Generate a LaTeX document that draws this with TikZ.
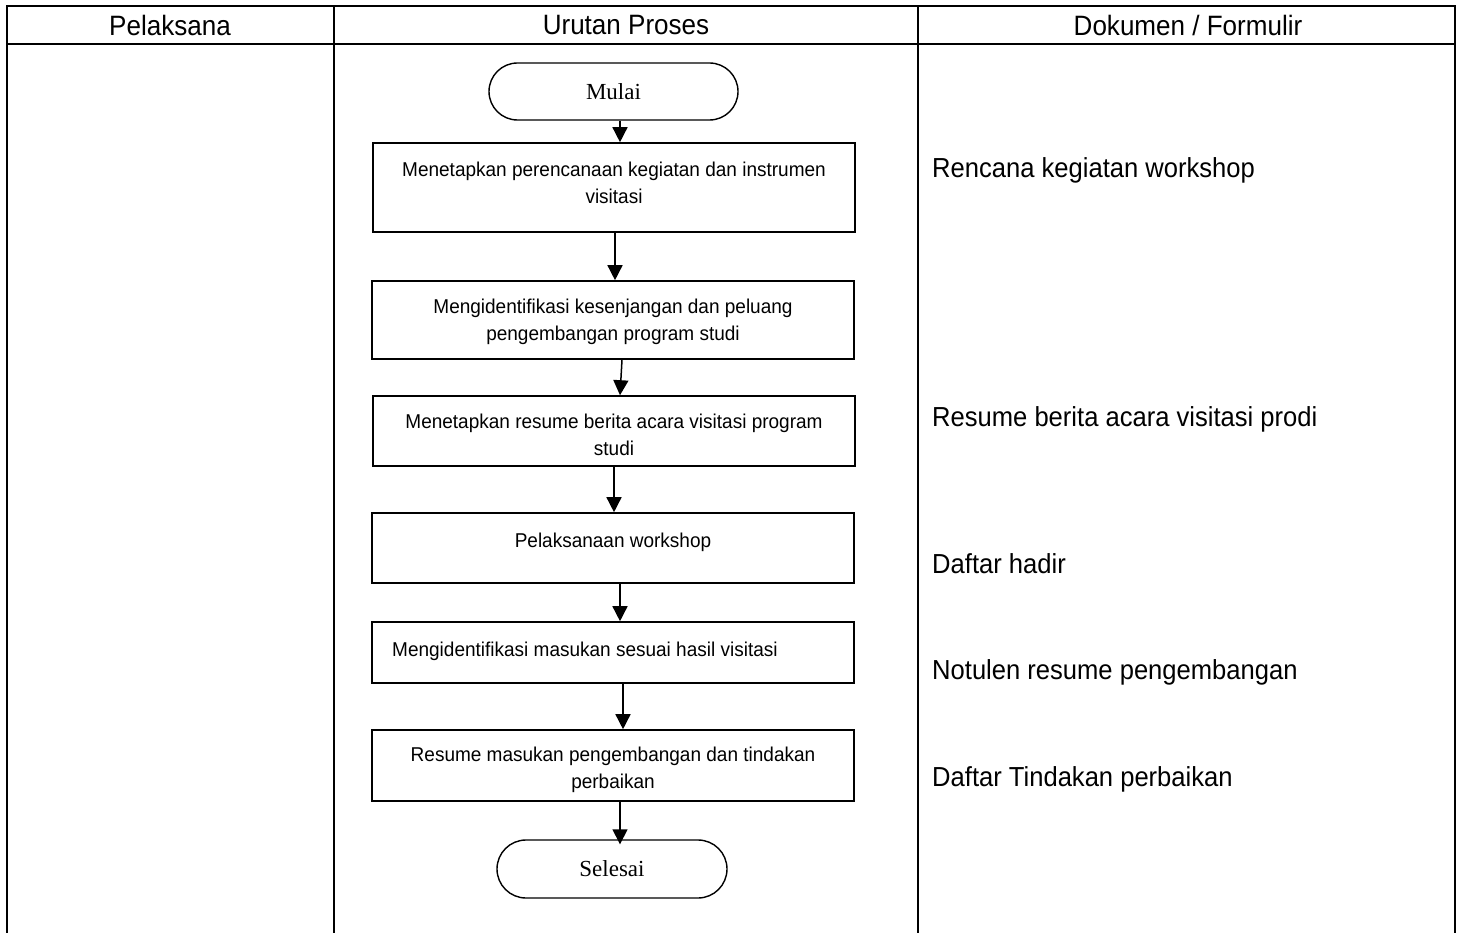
\documentclass[tikz,border=0pt]{standalone}
\usepackage{fontspec}
\setmainfont{Liberation Sans}
\newfontfamily\termfont{Liberation Serif}
\newfontfamily\headfont[FakeStretch=0.93]{Liberation Sans}
\newfontfamily\docfont[FakeStretch=0.93]{Liberation Sans}
\newfontfamily\boxfont[FakeStretch=0.95]{Liberation Sans}
\usetikzlibrary{arrows.meta,shapes.misc}

\begin{document}
\begin{tikzpicture}[x=1pt,y=-1pt,
  grid/.style={line width=1.7pt,line cap=rect},
  procbox/.style={draw,line width=1.6pt,rectangle,minimum width=482pt,inner sep=0pt},
  proctext/.style={font=\boxfont\fontsize{20}{27}\selectfont,align=center,inner sep=0pt},
  terminal/.style={draw,line width=1.4pt,rounded rectangle,inner sep=0pt,
    font=\termfont\fontsize{23}{26}\selectfont},
  doctext/.style={anchor=west,inner sep=0pt,font=\docfont\fontsize{27.5}{30}\selectfont},
  headtext/.style={inner sep=0pt,font=\headfont\fontsize{28}{30}\selectfont},
  arr/.style={line width=1.5pt,-{Triangle[length=15pt,width=15pt]}}]

\useasboundingbox (0,0) rectangle (1464,933);

% table frame
\draw[grid] (7,933) -- (7,6) -- (1455,6) -- (1455,933);
\draw[grid] (7,44) -- (1455,44);
\draw[grid] (334,6) -- (334,933);
\draw[grid] (918,6) -- (918,933);

% column headings
\node[headtext] (h1) at (170,25) {Pelaksana};
\node[headtext] (h2) at (626,25) {Urutan Proses};
\node[headtext] (h3) at (1188,25) {Dokumen / Formulir};

% process column
\node[terminal,minimum width=249pt,minimum height=57pt] (start) at (613.5,91.5) {Mulai};

\node[procbox,minimum height=89pt] (b1) at (614,187.5) {};
\node[proctext] (t1) at (614,183) {Menetapkan perencanaan kegiatan dan instrumen\\visitasi};

\node[procbox,minimum height=78pt] (b2) at (613,320) {};
\node[proctext] (t2) at (613,322) {Mengidentifikasi kesenjangan dan peluang\\pengembangan program studi};

\node[procbox,minimum height=70pt] (b3) at (614,431) {};
\node[proctext] (t3) at (614,435) {Menetapkan resume berita acara visitasi program\\studi};

\node[procbox,minimum height=70pt] (b4) at (613,548) {};
\node[proctext] (t4) at (613,542) {Pelaksanaan workshop};

\node[procbox,minimum height=61pt] (b5) at (613,652.5) {};
\node[proctext,anchor=west] (t5) at (392,651) {Mengidentifikasi masukan sesuai hasil visitasi};

\node[procbox,minimum height=71pt] (b6) at (613,765.5) {};
\node[proctext] (t6) at (613,770) {Resume masukan pengembangan dan tindakan\\perbaikan};

\node[terminal,minimum width=230pt,minimum height=58pt] (stop) at (612,869) {Selesai};

% flow
\draw[arr] (start.south -| 620,0) -- (b1.north -| 620,0);
\draw[arr] (b1.south -| 615,0) -- (b2.north -| 615,0);
\draw[arr] (b2.south -| 622,0) -- (b3.north -| 620,0);
\draw[arr] (b3.south -| 614,0) -- (b4.north -| 614,0);
\draw[arr] (b4.south -| 620,0) -- (b5.north -| 620,0);
\draw[arr] (b5.south -| 623,0) -- (b6.north -| 623,0);
\draw[arr] (b6.south -| 620,0) -- ([yshift=-5pt]stop.north -| 620,0);

% documents column
\node[doctext] (d1) at (932,170) {Rencana kegiatan workshop};
\node[doctext] (d2) at (932,419) {Resume berita acara visitasi prodi};
\node[doctext] (d3) at (932,564) {Daftar hadir};
\node[doctext] (d4) at (932,672) {Notulen resume pengembangan};
\node[doctext] (d5) at (932,779) {Daftar Tindakan perbaikan};
\end{tikzpicture}
\end{document}
